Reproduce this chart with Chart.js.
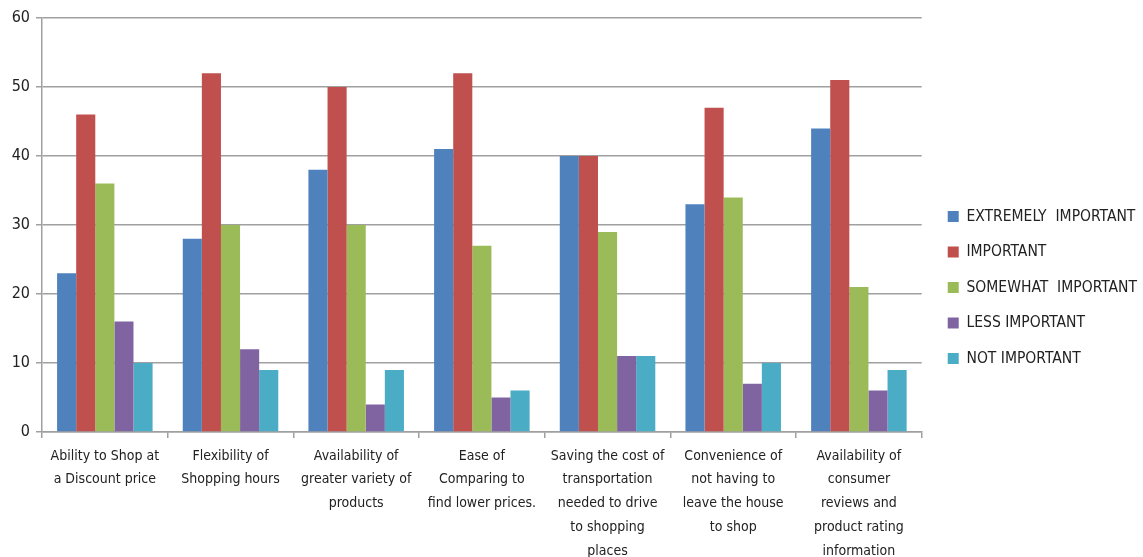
<!DOCTYPE html>
<html>
<head>
<meta charset="utf-8">
<script src="https://cdn.jsdelivr.net/npm/chart.js@4.4.1/dist/chart.umd.min.js"></script>
<style>
  html, body { margin: 0; padding: 0; background: #fff; }
  #wrap { width: 1143px; height: 557px; }
</style>
</head>
<body>
<div id="wrap"><canvas id="chart"></canvas></div>
<script>
// survey answers per shopping factor
const categories = [
  ['Ability to Shop at', 'a Discount price'],
  ['Flexibility of', 'Shopping hours'],
  ['Availability of', 'greater variety of', 'products'],
  ['Ease of', 'Comparing to', 'find lower prices.'],
  ['Saving the cost of', 'transportation', 'needed to drive', 'to shopping', 'places'],
  ['Convenience of', 'not having to', 'leave the house', 'to shop'],
  ['Availability of', 'consumer', 'reviews and', 'product rating', 'information']
];
const extremelyImportant = [23, 28, 38, 41, 40, 33, 44];
const important          = [46, 52, 50, 52, 40, 47, 51];
const somewhatImportant  = [36, 30, 30, 27, 29, 34, 21];
const lessImportant      = [16, 12, 4, 5, 11, 7, 6];
const notImportant       = [10, 9, 9, 6, 11, 10, 9];
const yTicks = [0, 10, 20, 30, 40, 50, 60];

const narrow = '"Liberation Sans Narrow", "DejaVu Sans Condensed", sans-serif';

// nudge the legend box right so it sits a little further from the plot
const legendShift = {
  id: 'legendShift',
  afterLayout(chart) {
    const lg = chart.legend;
    if (!lg) return;
    lg.left += 6;
    lg.right += 6;
    lg.legendHitBoxes.forEach(b => { b.left += 6; });
  }
};

new Chart(document.getElementById('chart'), {
  type: 'bar',
  data: {
    labels: categories,
    datasets: [
      { label: 'EXTREMELY  IMPORTANT', data: extremelyImportant, backgroundColor: '#4F81BD' },
      { label: 'IMPORTANT', data: important, backgroundColor: '#C0504D' },
      { label: 'SOMEWHAT  IMPORTANT', data: somewhatImportant, backgroundColor: '#9BBB59' },
      { label: 'LESS IMPORTANT', data: lessImportant, backgroundColor: '#8064A2' },
      { label: 'NOT IMPORTANT', data: notImportant, backgroundColor: '#4BACC6' }
    ]
  },
  options: {
    responsive: true,
    maintainAspectRatio: false,
    animation: false,
    datasets: {
      bar: { categoryPercentage: 0.76, barPercentage: 1.0 }
    },
    layout: { padding: { top: 18, left: 0, right: 2, bottom: 0 } },
    scales: {
      x: {
        grid: {
          offset: true,
          drawOnChartArea: false,
          drawTicks: true,
          tickLength: 6,
          color: '#a0a0a0',
          lineWidth: 1.5
        },
        border: { color: '#a0a0a0', width: 1.5 },
        ticks: {
          color: '#222',
          font: { family: narrow, size: 14, lineHeight: 1.7 },
          padding: 6,
          maxRotation: 0,
          autoSkip: false
        },
        afterFit: (scale) => { scale.height = 125; }
      },
      y: {
        min: 0,
        max: 60,
        afterBuildTicks: (scale) => { scale.ticks = yTicks.map(v => ({ value: v })); },
        grid: { color: '#a0a0a0', lineWidth: 1.5, tickLength: 6 },
        border: { color: '#a0a0a0', width: 1.5 },
        ticks: {
          color: '#222',
          font: { family: narrow, size: 16 },
          padding: 6
        },
        afterFit: (scale) => { scale.width = 42; }
      }
    },
    plugins: {
      tooltip: { enabled: false },
      legend: {
        position: 'right',
        align: 'center',
        labels: {
          boxWidth: 11,
          boxHeight: 11,
          padding: 20,
          color: '#222',
          font: { family: narrow, size: 15.5 }
        }
      }
    }
  },
  plugins: [legendShift]
});
</script>
</body>
</html>
